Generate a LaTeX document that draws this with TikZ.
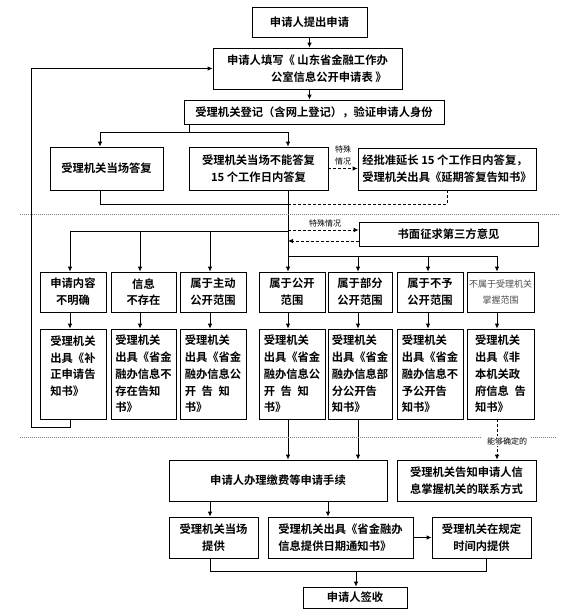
\documentclass[tikz,border=0pt]{standalone}
\usepackage{fontspec}
\setmainfont{Noto Sans CJK SC}[BoldFont={Noto Sans CJK SC Bold}]
\usetikzlibrary{arrows.meta}
\begin{document}
\begin{tikzpicture}[x=1pt,y=-1pt,
  box/.style={draw,line width=0.8pt,inner sep=2pt,align=center,
    font=\bfseries\fontsize{11.3}{16.7}\selectfont},
  tall/.style={box,align=left,minimum height=90,minimum width=66},
  cond/.style={box,minimum height=40,minimum width=66},
  ln/.style={line width=0.8pt},
  arr/.style={ln,-{Latex[length=5pt,width=4.5pt]}},
  dsh/.style={ln,dash pattern=on 3pt off 2pt},
  small/.style={font=\fontsize{8}{12}\selectfont,inner sep=1pt,align=center},
  sep/.style={gray,line width=0.6pt,dash pattern=on 1pt off 1pt}]
\useasboundingbox (0,0) rectangle (579,614);

% top boxes
\node[box,minimum width=115,minimum height=30] (b1) at (309.5,22) {申请人提出申请};
\node[box,align=left,minimum width=189,minimum height=41] (b2) at (307.5,68.5)
  {申请人填写《 山东省金融工作办\\\hspace*{44pt}公室信息公开申请表 》};
\node[box,minimum width=260,minimum height=24] (b3) at (314,112) {受理机关登记（含网上登记），验证申请人身份};
\node[box,minimum width=113,minimum height=43] (b4) at (106.5,168.5) {受理机关当场答复};
\node[box,minimum width=139,minimum height=43] (b5) at (258.5,168.5) {受理机关当场不能答复\\15 个工作日内答复};
\node[box,align=left,minimum width=178,minimum height=42] (b6) at (447,169)
  {经批准延长 15 个工作日内答复，\\受理机关出具《延期答复告知书》};
\node[box,minimum width=179,minimum height=24] (b7) at (448.5,234) {书面征求第三方意见};

% row 2
\node[cond] (r2a) at (73,292) {申请内容\\不明确};
\node[cond,minimum width=65] (r2b) at (143.5,292) {信息\\不存在};
\node[cond] (r2c) at (213,292) {属于主动\\公开范围};
\node[cond] (r2d) at (292,292) {属于公开\\范围};
\node[cond,minimum width=64] (r2e) at (360,292) {属于部分\\公开范围};
\node[cond] (r2f) at (430,292) {属于不予\\公开范围};
\node[cond,minimum width=67,font=\fontsize{9}{16.7}\selectfont,text=black!70] (r2g) at (500.5,292) {不属于受理机关\\掌握范围};

% row 3
\node[tall] (r3a) at (73,374) {受理机关\\出具《补\\正申请告\\知书》\\\mbox{}};
\node[tall,minimum width=65] (r3b) at (143.5,374) {受理机关\\出具《省金\\融办信息不\\存在告知\\书》};
\node[tall] (r3c) at (213,374) {受理机关\\出具《省金\\融办信息公\\开\enspace 告\enspace 知\\书》};
\node[tall] (r3d) at (292,374) {受理机关\\出具《省金\\融办信息公\\开\enspace 告\enspace 知\\书》};
\node[tall,minimum width=64] (r3e) at (360,374) {受理机关\\出具《省金\\融办信息部\\分公开告\\知书》};
\node[tall] (r3f) at (430,374) {受理机关\\出具《省金\\融办信息不\\予公开告\\知书》};
\node[tall,minimum width=67] (r3g) at (500.5,374) {受理机关\\出具《非\\本机关政\\府信息\enspace 告\\知书》};

% bottom boxes
\node[box,minimum width=218,minimum height=41] (b8) at (278,480.5) {申请人办理缴费等申请手续};
\node[box,minimum width=139,minimum height=41] (b9) at (466.5,480.5) {受理机关告知申请人信\\息掌握机关的联系方式};
\node[box,minimum width=89,minimum height=41] (b10) at (213.5,537.5) {受理机关当场\\提供};
\node[box,align=left,minimum width=145,minimum height=41] (b11) at (340.5,537.5) {受理机关出具《省金融办\\信息提供日期通知书》};
\node[box,minimum width=99,minimum height=41] (b12) at (481.5,537.5) {受理机关在规定\\时间内提供};
\node[box,minimum width=104,minimum height=21] (b13) at (355,597.5) {申请人签收};

% junction coordinates
\coordinate (s0) at (189,132);
\coordinate (s1) at (100,132);
\coordinate (s2) at (288,132);
\coordinate (j2) at (288,204);
\coordinate (ca) at (70,231);
\coordinate (cb) at (140,231);
\coordinate (cc) at (210,231);
\coordinate (cd) at (288,256);
\coordinate (ce) at (358,256);
\coordinate (cf) at (428,256);
\coordinate (cg) at (497,256);
\coordinate (t1) at (288,230);
\coordinate (t2) at (288,241);
\coordinate (fb) at (31,427);
\coordinate (k1) at (210,571);
\coordinate (k2) at (486,571);
\coordinate (k3) at (356,571);
\coordinate (k4) at (328,510);

% connectors top
\draw[arr] (b1.south) -- (b1.south |- b2.north);
\draw[arr] (b2.south -| b1.south) -- (b3.north -| b1.south);
\draw (b3.south -| s0) -- (s0);
\draw[ln] (b3.south -| s0) -- (s0);
\draw[ln] (s1) -- (s2);
\draw[arr] (s1) -- (s1 |- b4.north);
\draw[arr] (s2) -- (s2 |- b5.north);
\draw[dsh,-{Latex[length=5pt,width=4.5pt]}] (b5.east) -- (b5.east -| b6.west);
\node[small] (l1) at (343,155) {特殊\\情况};
\draw[ln] (b4.south -| s1) |- (j2);
\draw[dsh] (b6.south) |- (j2);
\draw[ln] (b5.south -| s2) -- (cd);

% middle branches
\draw[ln] (ca) -- (ca -| cd);
\draw[ln] (cd) -- (cg);
\foreach \c/\r in {ca/a,cb/b,cc/c}{
  \draw[arr] (\c) -- (\c |- r2\r.north);
  \draw[arr] (r2\r.south -| \c) -- (r3\r.north -| \c);
}
\foreach \c/\r in {cd/d,ce/e,cf/f,cg/g}{
  \draw[arr] (\c) -- (\c |- r2\r.north);
  \draw[arr] (r2\r.south -| \c) -- (r3\r.north -| \c);
}
\draw[dsh,-{Latex[length=5pt,width=4.5pt]}] (t1) -- (t1 -| b7.west);
\draw[dsh,-{Latex[length=5pt,width=4.5pt]}] (t2 -| b7.west) -- (t2);
\node[small] (l2) at (325,223) {特殊情况};

% feedback
\draw[arr] (r3a.south -| ca) |- (fb) |- (b2.west);

% bottom connectors
\draw[arr] (r3d.south -| cd) -- (b8.north -| cd);
\draw[arr] (r3e.south -| ce) -- (b8.north -| ce);
\draw[dsh,-{Latex[length=5pt,width=4.5pt]}] (r3g.south -| cg) -- (b9.north -| cg);
\node[small,fill=white] (l3) at (507,441) {能够确定的};
\draw[arr] (b8.south -| k1) -- (b10.north -| k1);
\draw[arr] (b8.south -| k4) -- (b11.north -| k4);
\draw[arr] (b11.east) -- (b11.east -| b12.west);
\draw[ln] (b10.south -| k1) -- (k1) -- (k2) -- (b12.south -| k2);
\draw[arr] (k3) -- (b13.north -| k3);

% separators
\draw[sep] (20,214) -- (560,214);
\draw[sep] (20,437) -- (482,437);
\draw[sep] (531,437) -- (557,437);
\end{tikzpicture}
\end{document}
